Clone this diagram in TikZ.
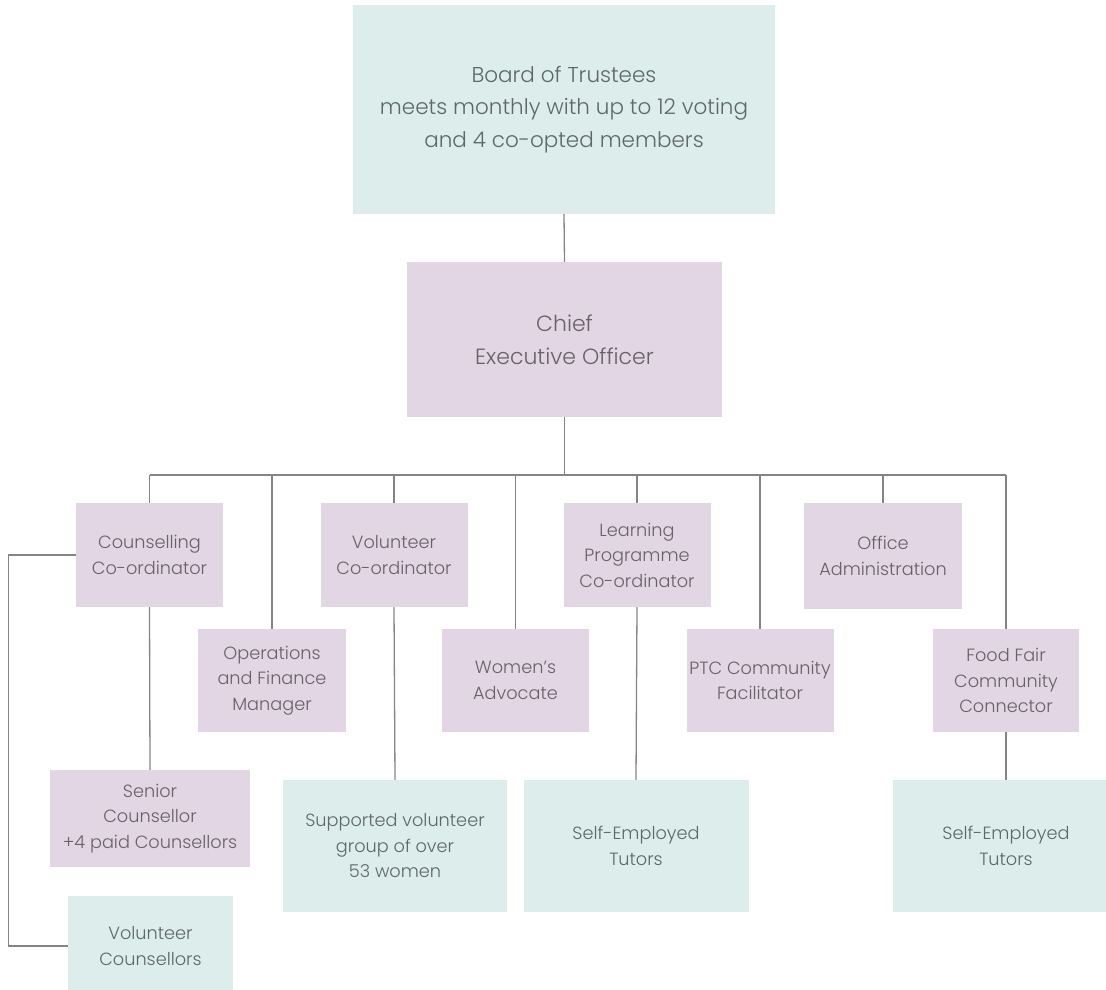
\documentclass[tikz,border=0pt]{standalone}
\usepackage{fontspec}
\setmainfont{Poppins Light}
\definecolor{teal}{HTML}{DCEDEC}
\definecolor{lilac}{HTML}{E2D5E4}
\definecolor{ttxt}{HTML}{5F6767}
\definecolor{ptxt}{HTML}{6A606B}
\definecolor{lin}{HTML}{858585}
\begin{document}
\begin{tikzpicture}[x=1pt,y=1pt,
  base/.style={rectangle, inner sep=0pt, align=center, execute at begin node={\rule{0pt}{1.2em}}},
  tbox/.style={base, fill=teal, text=ttxt, font=\fontsize{17.7}{25.5}\selectfont},
  pbox/.style={base, fill=lilac, text=ptxt, font=\fontsize{17.7}{25.5}\selectfont},
  wh/.style 2 args={minimum width=#1pt, minimum height=#2pt},
  link/.style={draw=lin, line width=1.3pt}]
\useasboundingbox (0,0) rectangle (1106,-990);
\clip (0,0) rectangle (1106,-990);
\node[tbox, wh={422}{209}, font=\fontsize{21.5}{32.5}\selectfont] (board) at (564,-109.5) {Board of Trustees\\meets monthly with up to 12 voting\\and 4 co-opted members};
\node[pbox, wh={315}{155}, font=\fontsize{22}{33}\selectfont] (ceo) at (564.5,-339.5) {Chief\\Executive Officer};
\coordinate (bus) at (0,-475);
\node[pbox, wh={147}{104}] (cc) at (149.5,-555) {Counselling\\Co-ordinator};
\node[pbox, wh={147}{104}] (vc) at (394,-555) {Volunteer\\Co-ordinator};
\node[pbox, wh={147}{104}] (lp) at (637,-555) {Learning\\Programme\\Co-ordinator};
\node[pbox, wh={158}{106}] (oa) at (883,-556) {Office\\Administration};
\node[pbox, wh={148}{103}] (ofm) at (272,-680.5) {Operations\\and Finance\\Manager};
\node[pbox, wh={147}{103}] (wa) at (515.5,-680.5) {Women's\\Advocate};
\node[pbox, wh={147}{103}] (ptc) at (760,-680.5) {PTC Community\\Facilitator};
\node[pbox, wh={146}{103}] (ff) at (1006,-680.5) {Food Fair\\Community\\Connector};
\node[pbox, wh={200}{97}] (sc) at (150,-818.5) {Senior\\Counsellor\\+4 paid Counsellors};
\node[tbox, wh={224}{132}] (svg) at (395,-846) {Supported volunteer\\group of over\\53 women};
\node[tbox, wh={225}{132}] (set1) at (636,-846) {Self-Employed\\Tutors};
\node[tbox, wh={226}{132}] (set2) at (1006,-846) {Self-Employed\\Tutors};
\node[tbox, wh={165}{100}] (vcs) at (150.5,-946) {Volunteer\\Counsellors};
\draw[link] (board.south) -- (ceo.north);
\draw[link] (ceo.south) -- (ceo.south |- bus);
\draw[link] (cc.north |- bus) -- (ff.north |- bus);
\foreach \n in {cc,vc,lp,oa,ofm,wa,ptc,ff} \draw[link] (\n.north) -- (\n.north |- bus);
\draw[link] (cc.south) -- (sc.north);
\draw[link] (vc.south) -- (svg.north);
\draw[link] (lp.south) -- (set1.north);
\draw[link] (ff.south) -- (set2.north);
\draw[link] (cc.west) -- ++(-67,0) |- (vcs.west);
\end{tikzpicture}
\end{document}
